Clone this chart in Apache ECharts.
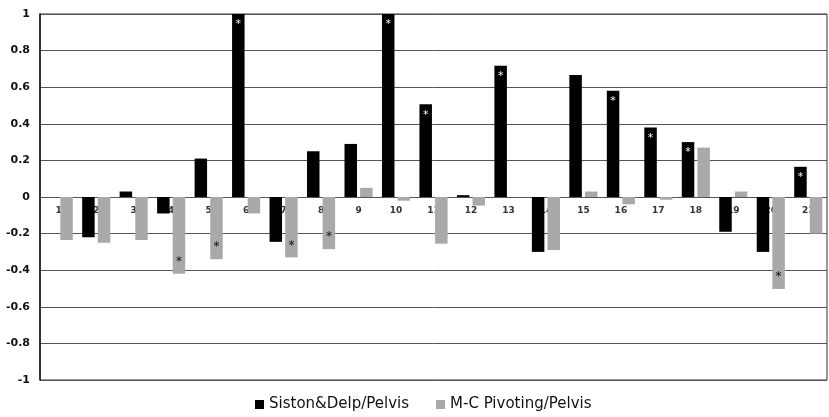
<!DOCTYPE html>
<html><head><meta charset="utf-8">
<script src="https://cdn.jsdelivr.net/npm/echarts@6/dist/echarts.min.js"></script>
<style>html,body{margin:0;padding:0;background:#fff}#c{width:829px;height:417px}</style>
</head><body><div id="c"></div>
<script>
const categories = ['1','2','3','4','5','6','7','8','9','10','11','12','13','14','15','16','17','18','19','20','21'];
const sistonDelp = [0, -0.22, 0.03, -0.09, 0.21, 1.0, -0.245, 0.25, 0.29, 1.0, 0.507, 0.01, 0.717, -0.30, 0.667, 0.58, 0.38, 0.30, -0.19, -0.30, 0.165];
const mcPivoting = [-0.235, -0.25, -0.235, -0.42, -0.34, -0.09, -0.33, -0.285, 0.05, -0.02, -0.255, -0.047, 0, -0.29, 0.03, -0.04, -0.015, 0.27, 0.03, -0.503, -0.20];
const sistonSig = [0,0,0,0,0,1,0,0,0,1,1,0,1,0,0,1,1,1,0,0,1];
const mcSig = [0,0,0,1,1,0,1,1,0,0,0,0,0,0,0,0,0,0,0,1,0];
const yTicks = [-1,-0.8,-0.6,-0.4,-0.2,0,0.2,0.4,0.6,0.8,1];

function build(vals, sig, color, size, distance) {
  return vals.map((v, i) => ({
    value: v,
    label: {
      show: !!sig[i], formatter: '*', position: v >= 0 ? 'insideTop' : 'insideBottom',
      color: color, fontSize: size, distance: distance,
      fontFamily: 'DejaVu Sans'
    }
  }));
}

const chart = echarts.init(document.getElementById('c'), null, {renderer: 'canvas'});
chart.setOption({
  animation: false,
  backgroundColor: '#fff',
  grid: {left: 40, right: 2, top: 14, bottom: 37, show: true, borderColor: '#333', borderWidth: 1},
  legend: {
    top: 395, left: 253, itemWidth: 9, itemHeight: 9, itemGap: 27,
    icon: 'rect', padding: 2,
    textStyle: {fontSize: 15, fontFamily: 'DejaVu Sans', color: '#111'},
    data: ['Siston&Delp/Pelvis', 'M-C Pivoting/Pelvis']
  },
  xAxis: {
    type: 'category', data: categories, position: 'bottom', offset: -183,
    axisLine: {onZero: false, lineStyle: {color: '#555', width: 1}},
    axisTick: {show: false},
    axisLabel: {fontSize: 9, fontWeight: 'bold', color: '#333', fontFamily: 'DejaVu Sans', margin: 9, interval: 0},
    splitLine: {show: false}
  },
  yAxis: {
    type: 'value', min: -1, max: 1, interval: 0.2,
    axisLine: {show: true, lineStyle: {color: '#111', width: 1.5}},
    axisTick: {show: false},
    axisLabel: {fontSize: 11, fontWeight: 'bold', color: '#111', fontFamily: 'DejaVu Sans', margin: 10,
      formatter: v => { const r = Math.round(v*10)/10; return yTicks.includes(r) ? String(r) : ''; }},
    splitLine: {lineStyle: {color: '#555', width: 1}}
  },
  series: [
    {name: 'Siston&Delp/Pelvis', type: 'bar', data: build(sistonDelp, sistonSig, '#fff', 11, 5),
     itemStyle: {color: '#000'}, barGap: '25%', barCategoryGap: '25%'},
    {name: 'M-C Pivoting/Pelvis', type: 'bar', data: build(mcPivoting, mcSig, '#111', 12, 6),
     itemStyle: {color: '#a9a9a9'}, barGap: '25%', barCategoryGap: '25%'}
  ]
});
</script></body></html>
